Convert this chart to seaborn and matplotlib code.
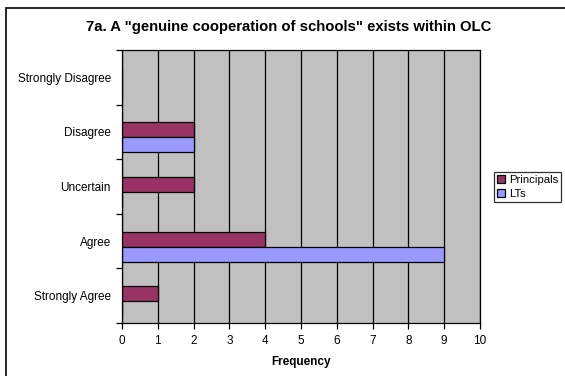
import numpy as np
import pandas as pd
import seaborn as sns
import matplotlib.pyplot as plt
from matplotlib.patches import Rectangle
from matplotlib.ticker import FixedLocator

# dados
categorias = ['Strongly Disagree', 'Disagree', 'Uncertain', 'Agree', 'Strongly Agree']
principals = [0, 2, 2, 4, 1]
lts = [0, 2, 0, 9, 0]
series = ['Principals', 'LTs']
cores = ['#993366', '#9999FF']

df = pd.DataFrame({
    'Resposta': categorias * 2,
    'Frequency': principals + lts,
    'Grupo': [series[0]] * len(categorias) + [series[1]] * len(categorias),
})

sns.set_style('white')
plt.rcParams['font.family'] = ['Liberation Sans', 'DejaVu Sans']
plt.rcParams['text.color'] = 'black'
plt.rcParams['axes.labelcolor'] = 'black'
plt.rcParams['xtick.color'] = 'black'
plt.rcParams['ytick.color'] = 'black'

fig = plt.figure(figsize=(5.65, 3.76), dpi=100)
ax = fig.add_axes([122 / 565, 1 - 323 / 376, 358 / 565, 273 / 376])
ax.set_facecolor('#C0C0C0')

sns.barplot(data=df, y='Resposta', x='Frequency', hue='Grupo', order=categorias,
            hue_order=series, palette=cores, width=0.55, orient='h',
            edgecolor='black', linewidth=0.9, saturation=1, ax=ax, legend=True)

# faixas das categorias (barras ficam um pouco abaixo do centro, como no Excel)
ax.set_ylim(len(categorias) - 0.6, -0.6)
ax.set_xlim(0, 10)
ax.set_xticks(range(0, 11))
ax.xaxis.grid(True, color='black', linewidth=0.9)
ax.set_axisbelow(True)

ax.set_yticks([i - 0.1 for i in range(len(categorias))])
ax.set_yticklabels(categorias)
ax.yaxis.set_minor_locator(FixedLocator([i - 0.6 for i in range(len(categorias) + 1)]))
ax.tick_params(axis='y', which='major', length=0, labelsize=8.5, pad=8)
ax.tick_params(axis='y', which='minor', length=4, width=0.9, color='black', left=True)
ax.tick_params(axis='x', length=4, width=0.9, color='black', bottom=True, labelsize=8.5, pad=5)

for s in ax.spines.values():
    s.set_color('black')
    s.set_linewidth(0.9)

ax.set_ylabel('')
ax.set_xlabel('Frequency', fontsize=8.5, fontweight='bold', labelpad=6)
# titulo centrado no grafico inteiro, nao so no eixo
fig.text(289 / 565, 1 - 27 / 376, '7a. A "genuine cooperation of schools" exists within OLC',
         fontsize=10.7, fontweight='bold', ha='center', va='center')

ax.legend(loc='center left', bbox_to_anchor=(494 / 565, 1 - 187 / 376),
          bbox_transform=fig.transFigure, frameon=True, fancybox=False,
          edgecolor='black', fontsize=8.2, handlelength=0.7, handleheight=0.7,
          handletextpad=0.3, borderpad=0.3, labelspacing=0.3, borderaxespad=0)
ax.get_legend().get_frame().set_linewidth(0.9)

# borda externa do grafico
fig.patches.append(Rectangle((6 / 565, -0.05), 1.0, 1 - 8 / 376 + 0.05,
                             transform=fig.transFigure, fill=False,
                             edgecolor='black', linewidth=1.2))

fig.savefig('out.png', dpi=100, facecolor='white')
